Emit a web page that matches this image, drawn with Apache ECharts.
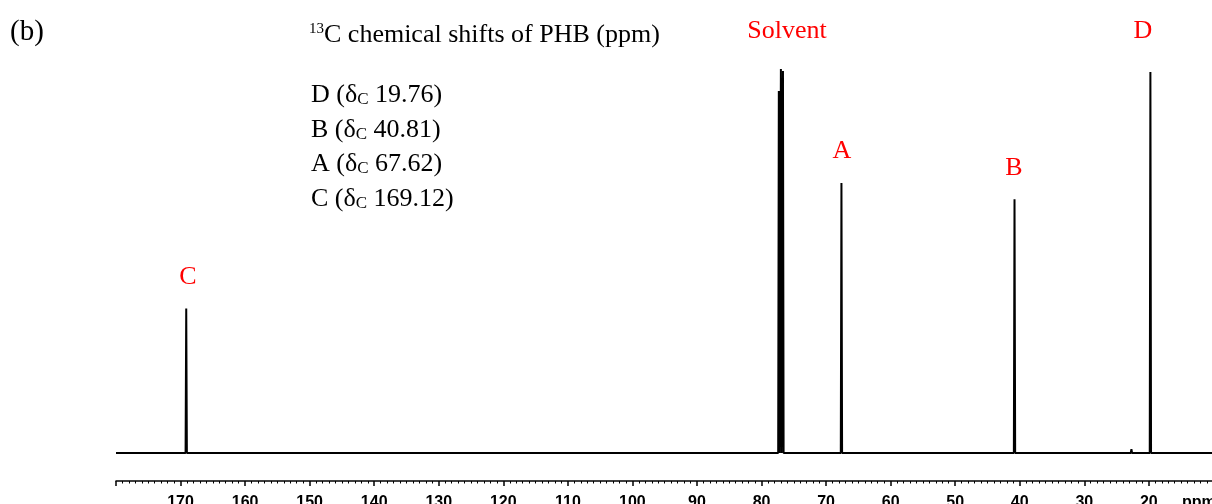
<!DOCTYPE html>
<html>
<head>
<meta charset="utf-8">
<script src="https://cdn.jsdelivr.net/npm/echarts@6/dist/echarts.min.js"></script>
<style>
  html, body { margin: 0; padding: 0; background: #fff; }
  #chart { width: 1212px; height: 504px; }
</style>
</head>
<body>
<div id="chart"></div>
<script>
// ---- data ----
const axisMin = 10;          // ppm (right end)
const axisMax = 180;         // ppm (left end)
const tickStep = 10;         // ppm between labelled ticks
const peakShifts  = [169.12, 77.32, 77.00, 76.68, 67.62, 40.81, 22.70, 19.76];   // ppm
const peakHeights = [37.6,   94.3,  100.0, 99.5,  70.3,  66.1,  1.0,   99.2];    // relative intensity
const peakNames   = ['C', 'Solvent', 'A', 'B', 'D'];
const shiftTable  = ['D (δ{sub|C} 19.76)', 'B (δ{sub|C} 40.81)', 'A (δ{sub|C} 67.62)', 'C (δ{sub|C} 169.12)'];
const titleText   = '{sup|13}C chemical shifts of PHB (ppm)';
const panelLabel  = '(b)';
const unitLabel   = 'ppm';

// ---- build the line trace (baseline + narrow peaks) ----
const halfWidth = 0.1;
const order = peakShifts.map((s, i) => i).sort((a, b) => peakShifts[b] - peakShifts[a]);
const trace = [[axisMax, 0]];
order.forEach(i => {
  trace.push([peakShifts[i] + halfWidth, 0]);
  trace.push([peakShifts[i], peakHeights[i]]);
  trace.push([peakShifts[i] - halfWidth, 0]);
});
trace.push([axisMin, 0]);

const serif = "'Liberation Serif', 'Times New Roman', serif";
const sans = "'Liberation Sans', Arial, sans-serif";
const red = '#ff0000';

const chart = echarts.init(document.getElementById('chart'), null, { renderer: 'canvas' });

const textBlock = [];
textBlock.push({
  type: 'text', x: 10, y: 32,
  style: { text: panelLabel, font: '29px ' + serif, fill: '#000', align: 'left', verticalAlign: 'middle' }
});
textBlock.push({
  type: 'text', x: 309, y: 35,
  style: {
    text: titleText, fontFamily: serif, fontSize: 26, fill: '#000', align: 'left', verticalAlign: 'middle',
    rich: { sup: { fontSize: 15, fontFamily: serif, verticalAlign: 'top', lineHeight: 26, padding: [0, 0, 8, 0] } }
  }
});
const lineY = [95, 130, 164.5, 199];
shiftTable.forEach((t, i) => {
  textBlock.push({
    type: 'text', x: 311, y: lineY[i],
    style: {
      text: t, fontFamily: serif, fontSize: 26, fill: '#000', align: 'left', verticalAlign: 'middle',
      rich: { sub: { fontSize: 17, fontFamily: serif, verticalAlign: 'bottom', lineHeight: 26, padding: [6, 0, 0, 0] } }
    }
  });
});
const labelPos = [[188, 277], [787, 31], [842, 151], [1014, 168], [1143, 31]];
peakNames.forEach((n, i) => {
  textBlock.push({
    type: 'text', x: labelPos[i][0], y: labelPos[i][1],
    style: { text: n, font: '26px ' + serif, fill: red, align: 'center', verticalAlign: 'middle' }
  });
});
textBlock.push({
  type: 'text', x: 1182, y: 495,
  style: { text: unitLabel, font: 'bold 16px ' + sans, fill: '#000', align: 'left', verticalAlign: 'top' }
});

chart.setOption({
  animation: false,
  backgroundColor: '#fff',
  grid: { left: 116, width: 1097.4, top: 69, bottom: 23, containLabel: false, outerBoundsMode: 'none' },
  xAxis: {
    type: 'value', min: axisMin, max: axisMax, interval: tickStep, inverse: true,
    axisLine: { show: true, onZero: false, lineStyle: { color: '#000', width: 1.5 } },
    axisTick: { show: true, length: 5, lineStyle: { color: '#000', width: 1.5 } },
    minorTick: { show: true, splitNumber: 10, length: 2.5, lineStyle: { color: '#000', width: 1 } },
    splitLine: { show: false },
    axisLabel: {
      margin: 14, fontFamily: sans, fontWeight: 'bold', fontSize: 16, color: '#000',
      formatter: v => (v === axisMin || v === axisMax) ? '' : String(v)
    }
  },
  yAxis: { type: 'value', show: false, min: -7.3, max: 100, splitLine: { show: false } },
  series: [{
    type: 'line', data: trace, showSymbol: false, symbol: 'none', clip: false,
    lineStyle: { color: '#000', width: 2 }
  }],
  graphic: textBlock
});
</script>
</body>
</html>
